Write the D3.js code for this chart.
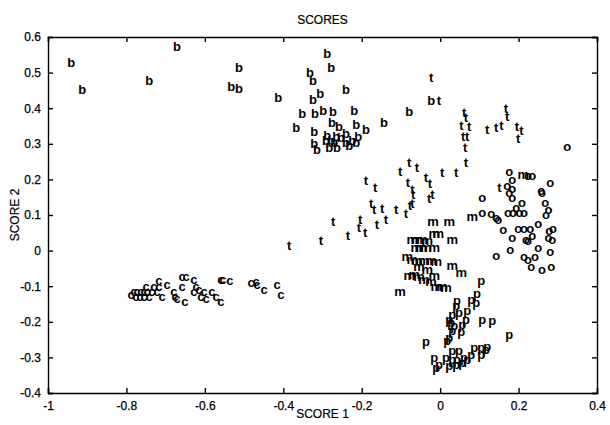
<!DOCTYPE html>
<html>
<head>
<script src="https://d3js.org/d3.v7.min.js"></script>
<style>
  body { margin: 0; background: #fff; }
  text { font-family: "Liberation Sans", Arial, sans-serif; fill: #000; }
  .mark { font-size: 13px; font-weight: bold; }
  .axis text { font-size: 12px; stroke: #000; stroke-width: 0.25; }
  .lbl { font-size: 12px; stroke: #000; stroke-width: 0.2; }
  .axis path, .axis line { stroke: #000; stroke-width: 1.4; }
</style>
</head>
<body>
<svg width="610" height="425"></svg>
<script>
var xTicks = [-1, -0.8, -0.6, -0.4, -0.2, 0, 0.2, 0.4];
var yTicks = [-0.4, -0.3, -0.2, -0.1, 0, 0.1, 0.2, 0.3, 0.4, 0.5, 0.6];

var bPts = [[-0.941,0.529],[-0.913,0.454],[-0.671,0.574],[-0.742,0.479],[-0.513,0.515],[-0.533,0.462],
  [-0.513,0.456],[-0.413,0.431],[-0.367,0.347],[-0.288,0.555],[-0.278,0.515],[-0.332,0.501],[-0.324,0.479],
  [-0.306,0.442],[-0.324,0.426],[-0.240,0.454],[-0.352,0.386],[-0.319,0.386],[-0.298,0.395],[-0.273,0.392],
  [-0.219,0.395],[-0.321,0.336],[-0.276,0.361],[-0.258,0.350],[-0.214,0.355],[-0.189,0.341],[-0.143,0.361],
  [-0.079,0.392],[-0.023,0.423],[-0.321,0.302],[-0.314,0.285],[-0.288,0.325],[-0.283,0.291],[-0.270,0.305],
  [-0.263,0.291],[-0.253,0.319],[-0.240,0.330],[-0.240,0.305],[-0.232,0.296],[-0.224,0.310],[-0.214,0.305],
  [-0.209,0.322],[-0.265,0.322],[-0.278,0.310],[-0.291,0.310]];

var tPts = [[-0.023,0.487],[-0.003,0.420],[0.061,0.386],[0.066,0.372],[0.054,0.350],[0.074,0.347],
  [0.059,0.319],[0.069,0.319],[0.064,0.288],[0.066,0.246],[0.120,0.341],[0.143,0.344],[0.156,0.350],
  [0.168,0.400],[0.171,0.375],[0.196,0.347],[0.207,0.338],[0.199,0.313],[-0.102,0.223],[-0.079,0.246],
  [-0.059,0.232],[0.005,0.218],[0.041,0.218],[-0.082,0.192],[-0.036,0.206],[-0.026,0.187],[-0.071,0.170],
  [-0.069,0.156],[-0.028,0.147],[-0.020,0.156],[-0.071,0.133],[-0.077,0.125],[-0.189,0.195],[-0.166,0.176],
  [-0.176,0.131],[-0.168,0.114],[-0.148,0.117],[-0.112,0.114],[-0.087,0.105],[-0.273,0.080],[-0.204,0.088],
  [-0.207,0.063],[-0.161,0.072],[-0.138,0.086],[-0.385,0.015],[-0.304,0.029],[-0.235,0.041],[-0.191,0.049],
  [0.151,0.178]];

var oPts = [[0.324,0.288],[0.176,0.218],[0.184,0.198],[0.224,0.209],[0.235,0.209],[0.171,0.181],
  [0.184,0.170],[0.176,0.159],[0.184,0.145],[0.107,0.145],[0.258,0.167],[0.260,0.159],[0.281,0.187],
  [0.268,0.133],[0.276,0.111],[0.270,0.097],[0.209,0.133],[0.194,0.117],[0.202,0.103],[0.214,0.105],
  [0.173,0.103],[0.186,0.103],[0.107,0.103],[0.130,0.100],[0.143,0.091],[0.148,0.083],[0.161,0.055],
  [0.184,0.035],[0.199,0.060],[0.214,0.058],[0.230,0.058],[0.235,0.038],[0.219,0.029],[0.224,0.024],
  [0.250,0.074],[0.250,0.007],[0.278,0.052],[0.288,0.058],[0.276,0.035],[0.286,0.027],[0.281,-0.007],
  [0.179,0.001],[0.143,-0.018],[0.214,-0.021],[0.224,-0.029],[0.242,-0.021],[0.232,-0.049],[0.260,-0.055],
  [0.283,-0.049]];

var mPts = [[-0.018,0.080],[0.023,0.080],[0.031,0.029],[-0.015,0.044],[-0.005,0.046],[0.212,0.212],
  [0.082,0.094],[-0.071,0.029],[-0.059,0.029],[-0.046,0.029],[-0.033,0.024],[-0.061,0.007],[-0.048,0.007],
  [-0.036,0.007],[-0.015,0.007],[-0.084,-0.021],[-0.071,-0.027],[-0.059,-0.032],[-0.041,-0.032],
  [-0.023,-0.032],[-0.010,-0.035],[0.031,-0.046],[0.054,-0.066],[-0.079,-0.074],[-0.066,-0.069],
  [-0.054,-0.077],[-0.041,-0.083],[-0.023,-0.091],[-0.010,-0.103],[0.005,-0.103],[0.015,-0.108],
  [-0.102,-0.119],[-0.033,-0.055],[-0.054,-0.049],[-0.015,-0.072]];

var pPts = [[0.105,-0.091],[0.094,-0.128],[0.079,-0.145],[0.092,-0.153],[0.043,-0.147],[0.041,-0.162],
  [0.048,-0.181],[0.069,-0.176],[0.066,-0.201],[0.031,-0.187],[0.023,-0.201],[0.028,-0.209],[0.036,-0.218],
  [0.031,-0.232],[0.056,-0.215],[0.054,-0.235],[0.023,-0.251],[0.018,-0.260],[0.107,-0.201],[0.133,-0.204],
  [0.176,-0.243],[-0.036,-0.263],[-0.003,-0.327],[-0.015,-0.308],[-0.010,-0.336],[0.015,-0.308],
  [0.031,-0.288],[0.048,-0.288],[0.031,-0.313],[0.043,-0.313],[0.061,-0.308],[0.079,-0.299],[0.087,-0.279],
  [0.105,-0.279],[0.117,-0.285],[0.120,-0.277],[0.105,-0.299],[0.023,-0.330],[0.041,-0.327],[0.056,-0.322],
  [0.069,-0.313]];

var cPts = [[-0.788,-0.125],[-0.781,-0.119],[-0.773,-0.119],[-0.763,-0.119],[-0.755,-0.119],[-0.747,-0.117],
  [-0.776,-0.133],[-0.765,-0.133],[-0.755,-0.133],[-0.742,-0.131],[-0.750,-0.105],[-0.730,-0.105],
  [-0.735,-0.119],[-0.717,-0.088],[-0.717,-0.103],[-0.722,-0.119],[-0.709,-0.131],[-0.696,-0.097],
  [-0.679,-0.119],[-0.676,-0.131],[-0.671,-0.139],[-0.651,-0.147],[-0.658,-0.077],[-0.648,-0.077],
  [-0.658,-0.103],[-0.628,-0.083],[-0.622,-0.103],[-0.628,-0.119],[-0.615,-0.111],[-0.602,-0.117],
  [-0.610,-0.133],[-0.597,-0.139],[-0.582,-0.119],[-0.571,-0.131],[-0.559,-0.145],[-0.559,-0.083],
  [-0.554,-0.083],[-0.536,-0.086],[-0.482,-0.094],[-0.469,-0.091],[-0.467,-0.097],[-0.449,-0.111],
  [-0.416,-0.097],[-0.406,-0.125]];

var groups = [
  { letter: "b", pts: bPts, dy: 4.7 },
  { letter: "t", pts: tPts, dy: 4.3 },
  { letter: "o", pts: oPts, dy: 3.4 },
  { letter: "m", pts: mPts, dy: 3.4 },
  { letter: "p", pts: pPts, dy: 2 },
  { letter: "c", pts: cPts, dy: 3.4 }
];

var plotL = 48, plotR = 597, plotT = 37, plotB = 393;
var svg = d3.select("svg");

var x = d3.scaleLinear().domain([-1, 0.4]).range([plotL, plotR]);
var y = d3.scaleLinear().domain([-0.4, 0.6]).range([plotB, plotT]);

var fmt = function(d) { return String(+d.toFixed(1)); };

svg.append("g").attr("class", "axis")
  .attr("transform", "translate(0," + plotB + ")")
  .call(d3.axisBottom(x).tickValues(xTicks).tickSize(-5).tickPadding(8).tickFormat(fmt));
svg.append("g").attr("class", "axis")
  .attr("transform", "translate(0," + plotT + ")")
  .call(d3.axisTop(x).tickValues(xTicks).tickSize(-5).tickFormat(""));
svg.append("g").attr("class", "axis")
  .attr("transform", "translate(" + plotL + ",0)")
  .call(d3.axisLeft(y).tickValues(yTicks).tickSize(-5).tickPadding(7).tickFormat(fmt));
svg.append("g").attr("class", "axis")
  .attr("transform", "translate(" + plotR + ",0)")
  .call(d3.axisRight(y).tickValues(yTicks).tickSize(-5).tickFormat(""));
svg.selectAll(".axis path").attr("fill", "none");

groups.forEach(function(g) {
  svg.append("g").selectAll("text")
    .data(g.pts)
    .enter().append("text")
    .attr("class", "mark")
    .attr("text-anchor", "middle")
    .attr("x", function(d) { return x(d[0]); })
    .attr("y", function(d) { return y(d[1]) + g.dy; })
    .text(g.letter);
});

svg.append("text").attr("class", "lbl").attr("x", (plotL + plotR) / 2).attr("y", 24)
  .attr("text-anchor", "middle").text("SCORES");
svg.append("text").attr("class", "lbl").attr("x", (plotL + plotR) / 2).attr("y", 418)
  .attr("text-anchor", "middle").text("SCORE 1");
svg.append("text").attr("class", "lbl").attr("transform", "translate(19," + ((plotT + plotB) / 2) + ") rotate(-90)")
  .attr("text-anchor", "middle").text("SCORE 2");
</script>
</body>
</html>
